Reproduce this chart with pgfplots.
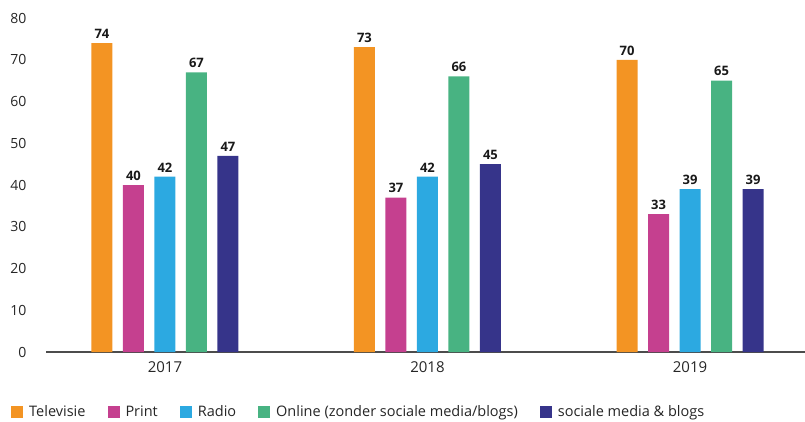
\documentclass[border=0pt]{standalone}
\usepackage{pgfplots}
\pgfplotsset{compat=1.18}
\usepackage{fontspec}
\setmainfont{Open Sans}
\definecolor{tv}{HTML}{F39423}
\definecolor{pr}{HTML}{C5408F}
\definecolor{ra}{HTML}{2CA9E1}
\definecolor{on}{HTML}{48B382}
\definecolor{so}{HTML}{36348A}
\begin{document}
\begin{tikzpicture}
\useasboundingbox (-46pt,-69pt) rectangle (759pt,352pt);
\begin{axis}[
  scale only axis, width=759pt, height=334pt,
  ybar=10.5pt, bar width=21pt,
  xmin=-0.453, xmax=2.438, ymin=0, ymax=80,
  xtick={0,1,2}, xticklabels={2017,2018,2019},
  ytick={0,10,...,80},
  axis x line*=bottom, axis y line*=left,
  x axis line style={draw=black!70, line width=1.2pt, -},
  y axis line style={draw=none},
  major tick length=0pt,
  /pgf/number format/assume math mode=true,
  tick label style={font=\fontsize{14}{16}\selectfont, text=black!85},
  yticklabel style={anchor=east, xshift=-16pt},
  xticklabel style={font=\fontsize{15}{17}\selectfont, yshift=-6pt},
  nodes near coords,
  every node near coord/.append style={font=\fontsize{13}{15}\selectfont\bfseries, text=black!90, yshift=1pt},
  legend columns=5,
  legend style={draw=none, at={(-38pt,-60pt)}, anchor=west,
    font=\fontsize{14.5}{16}\selectfont, text=black!85,
    /tikz/every odd column/.append style={column sep=4pt},
    /tikz/every even column/.append style={column sep=20pt}},
  legend image code/.code={\fill[#1] (0pt,-6pt) rectangle (12pt,6pt);},
]
\addplot[fill=tv, draw=none] coordinates {(0,74) (1,73) (2,70)};
\addplot[fill=pr, draw=none] coordinates {(0,40) (1,37) (2,33)};
\addplot[fill=ra, draw=none] coordinates {(0,42) (1,42) (2,39)};
\addplot[fill=on, draw=none] coordinates {(0,67) (1,66) (2,65)};
\addplot[fill=so, draw=none] coordinates {(0,47) (1,45) (2,39)};
\legend{Televisie, Print, Radio, Online (zonder sociale media/blogs), sociale media \& blogs}
\end{axis}
\end{tikzpicture}
\end{document}
